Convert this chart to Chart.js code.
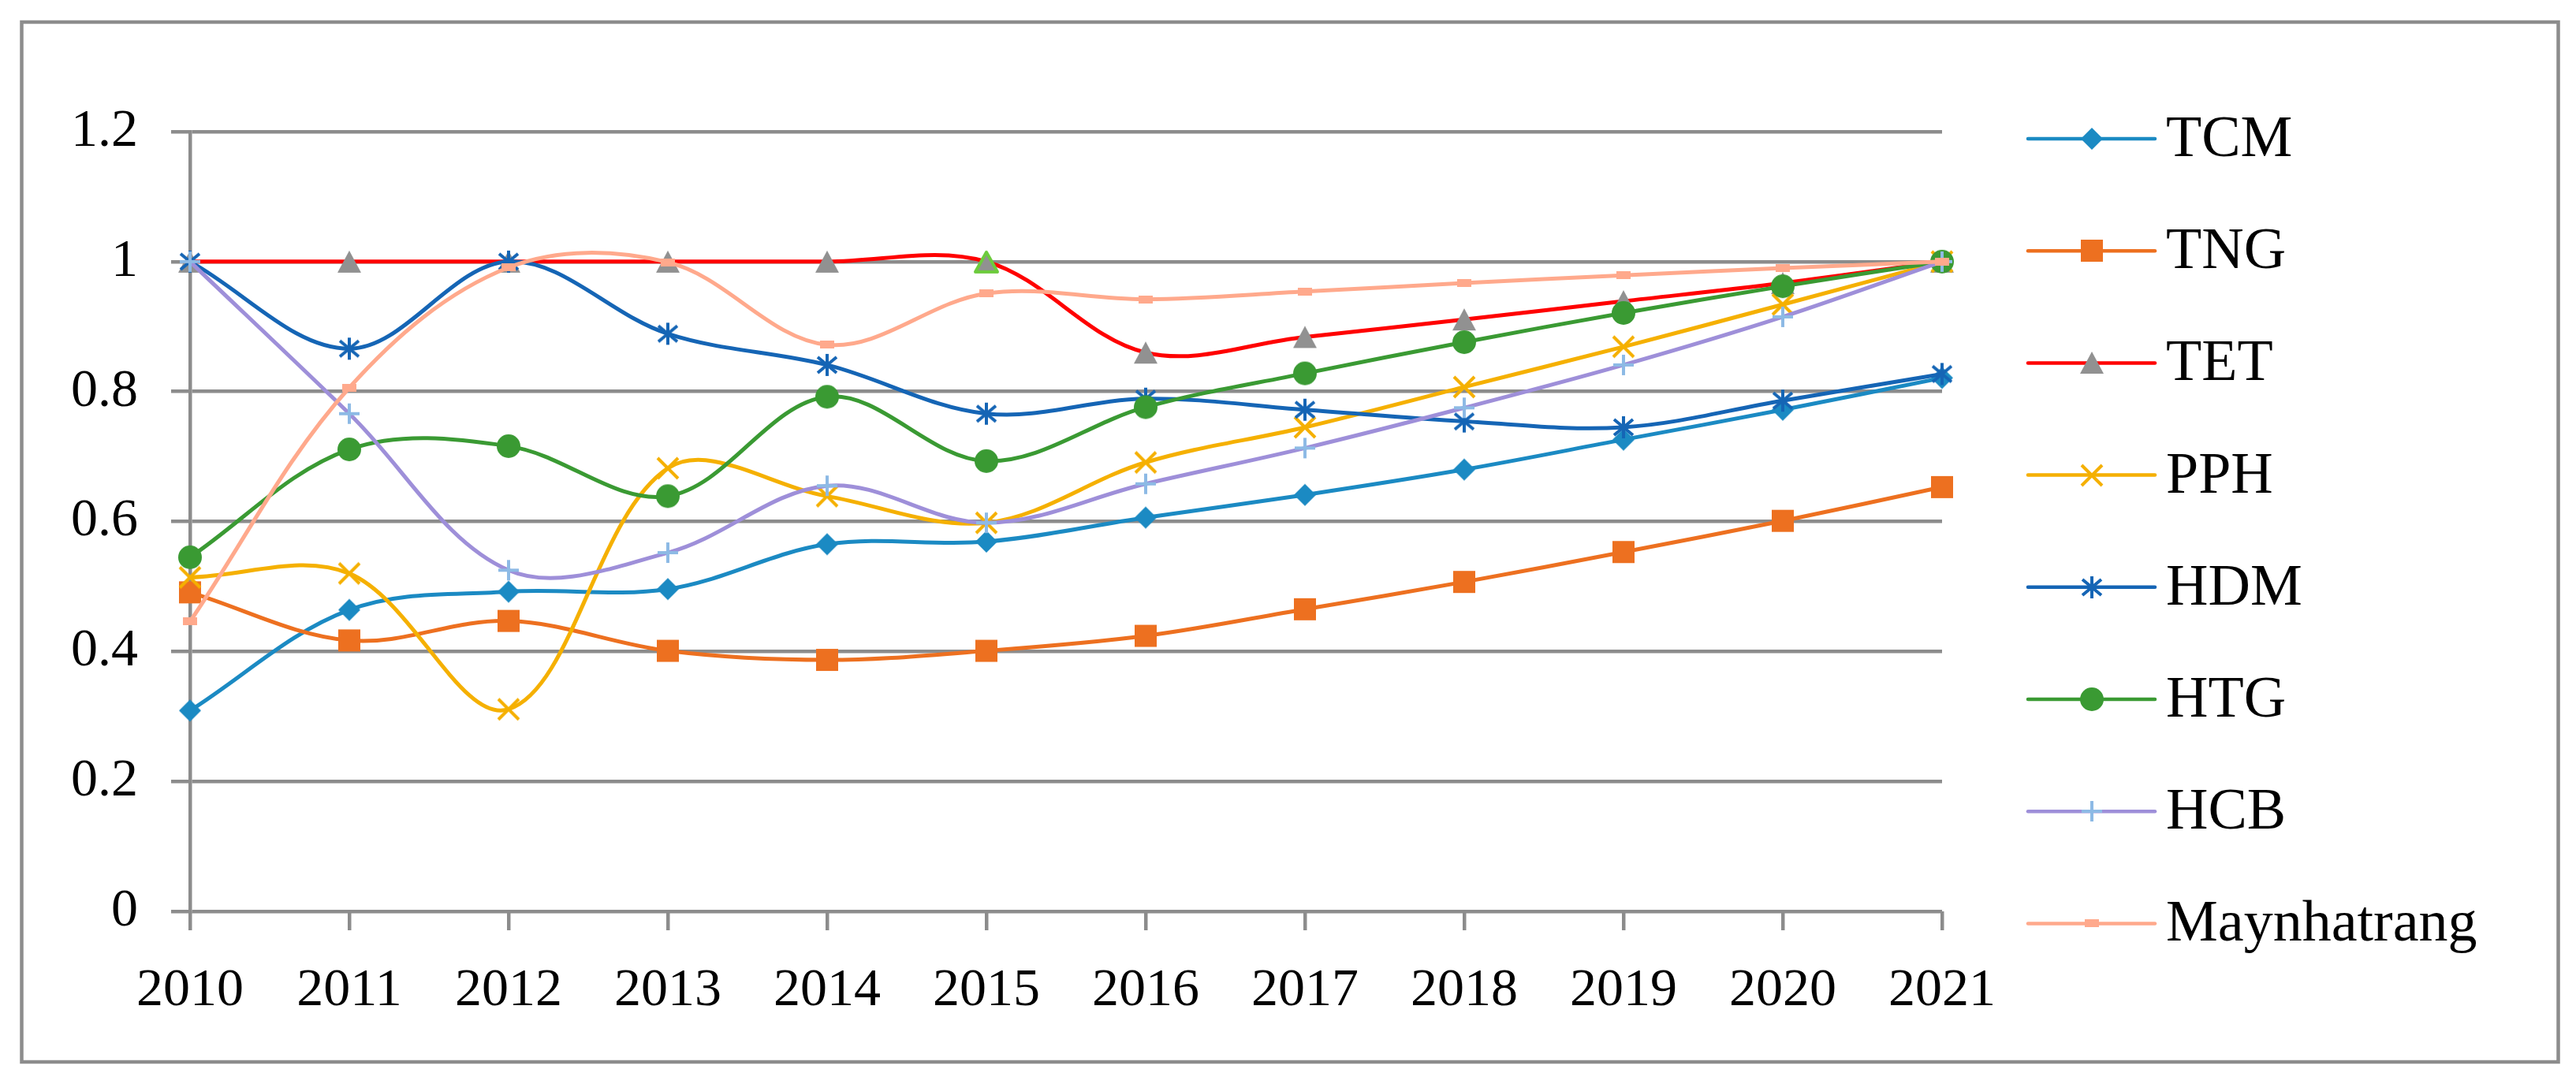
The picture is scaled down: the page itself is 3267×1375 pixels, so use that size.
<!DOCTYPE html>
<html>
<head>
<meta charset="utf-8">
<script src="https://cdn.jsdelivr.net/npm/chart.js@4.4.1/dist/chart.umd.min.js"></script>
<style>
  html, body { margin: 0; padding: 0; background: #ffffff; }
  canvas { display: block; }
</style>
</head>
<body>
<canvas id="c" width="3267" height="1375"></canvas>
<script>
// ---- data ----
const years = ['2010','2011','2012','2013','2014','2015','2016','2017','2018','2019','2020','2021'];
const yTickLabels = ['0','0.2','0.4','0.6','0.8','1','1.2'];
const seriesNames = ['TCM','TNG','TET','PPH','HDM','HTG','HCB','Maynhatrang'];
const TCM = [0.309,0.464,0.492,0.496,0.565,0.569,0.606,0.641,0.680,0.726,0.772,0.821];
const TNG = [0.491,0.417,0.447,0.401,0.387,0.401,0.424,0.465,0.507,0.553,0.601,0.653];
const TET = [1,1,1,1,1,1,0.860,0.884,0.911,0.939,0.967,1];
const PPH = [0.514,0.520,0.311,0.682,0.639,0.598,0.691,0.745,0.807,0.869,0.934,1];
const HDM = [1,0.866,1,0.889,0.841,0.766,0.789,0.772,0.754,0.745,0.786,0.827];
const HTG = [0.545,0.711,0.716,0.639,0.792,0.693,0.776,0.828,0.876,0.921,0.962,1];
const HCB = [1,0.766,0.525,0.552,0.655,0.598,0.658,0.713,0.775,0.841,0.915,1];
const MAY = [0.446,0.806,0.991,0.999,0.872,0.951,0.942,0.954,0.967,0.979,0.990,1];

// ---- marker images (styles) ----
function mk(w, h, draw) {
  const c = document.createElement('canvas');
  c.width = w; c.height = h;
  const g = c.getContext('2d');
  draw(g, w, h);
  return c;
}
const mDiamond = mk(30, 30, (g) => { g.fillStyle = '#1B8AC3'; g.beginPath(); g.moveTo(15,1); g.lineTo(29,15); g.lineTo(15,29); g.lineTo(1,15); g.closePath(); g.fill(); });
const mSquare = mk(30, 30, (g) => { g.fillStyle = '#ED7020'; g.fillRect(1,1,28,28); });
const mTri = mk(32, 30, (g) => { g.fillStyle = '#919191'; g.beginPath(); g.moveTo(16,1); g.lineTo(31,29); g.lineTo(1,29); g.closePath(); g.fill(); });
const mTriGreen = mk(34, 32, (g) => { g.fillStyle = '#919191'; g.strokeStyle = '#6CCB3C'; g.lineWidth = 4; g.lineJoin = 'round'; g.beginPath(); g.moveTo(17,4); g.lineTo(31,29); g.lineTo(3,29); g.closePath(); g.fill(); g.stroke(); });
const mX = mk(32, 32, (g) => { g.strokeStyle = '#F5B000'; g.lineWidth = 4; g.beginPath(); g.moveTo(3,3); g.lineTo(29,29); g.moveTo(29,3); g.lineTo(3,29); g.stroke(); });
const mStar = mk(30, 30, (g) => { g.strokeStyle = '#1565B5'; g.lineWidth = 4; g.beginPath(); g.moveTo(15,1); g.lineTo(15,29); g.moveTo(3,5); g.lineTo(27,25); g.moveTo(27,5); g.lineTo(3,25); g.stroke(); });
const mCircle = mk(32, 32, (g) => { g.fillStyle = '#3A9A33'; g.beginPath(); g.arc(16,16,15,0,Math.PI*2); g.fill(); });
const mPlus = mk(28, 28, (g) => { g.strokeStyle = '#8DBAE5'; g.lineWidth = 4; g.beginPath(); g.moveTo(14,1); g.lineTo(14,27); g.moveTo(1,14); g.lineTo(27,14); g.stroke(); });
const mRect = mk(18, 10, (g) => { g.fillStyle = '#FFA98C'; g.fillRect(0,0,18,10); });

const seriesValues = [TCM, TNG, TET, PPH, HDM, HTG, HCB, MAY];
const lineColors = ['#1B8AC3','#ED7020','#FF0000','#F5B000','#1565B5','#3A9A33','#9E8FD9','#FFA98C'];
const markers = [mDiamond, mSquare, mTri, mX, mStar, mCircle, mPlus, mRect];

const datasets = seriesNames.map((name, i) => ({
  label: name,
  data: seriesValues[i],
  borderColor: lineColors[i],
  backgroundColor: lineColors[i],
  borderWidth: 5,
  borderJoinStyle: 'round',
  borderCapStyle: 'round',
  tension: 0.35,
  fill: false,
  clip: false,
  order: -i,
  pointRadius: 15,
  pointHoverRadius: 15,
  pointStyle: (i === 2) ? ((ctx) => ctx.dataIndex === 5 ? mTriGreen : mTri) : markers[i],
  legendMarker: markers[i]
}));

const FONT = '"Liberation Serif", "Times New Roman", serif';

const frame = {
  id: 'frame',
  beforeDraw(chart) {
    const g = chart.ctx;
    g.save();
    g.fillStyle = '#ffffff';
    g.fillRect(0, 0, chart.width, chart.height);
    g.strokeStyle = '#8C8C8C';
    g.lineWidth = 4.5;
    g.strokeRect(27.5, 28, 3217, 1319);
    g.restore();
  }
};

const sideLegend = {
  id: 'sideLegend',
  afterDraw(chart) {
    const g = chart.ctx;
    chart.data.datasets.forEach((ds, i) => {
      const y = 176 + i * 142.2;
      g.save();
      g.strokeStyle = ds.borderColor;
      g.lineWidth = 4.5;
      g.lineCap = 'round';
      g.beginPath();
      g.moveTo(2572, y);
      g.lineTo(2733, y);
      g.stroke();
      const img = ds.legendMarker;
      g.drawImage(img, Math.round(2653 - img.width / 2), Math.round(y - img.height / 2));
      g.fillStyle = '#000000';
      g.font = '74px ' + FONT;
      g.textBaseline = 'alphabetic';
      g.textAlign = 'left';
      g.fillText(ds.label, 2747, y + 22);
      g.restore();
    });
  }
};

new Chart(document.getElementById('c'), {
  type: 'line',
  data: { labels: years, datasets },
  plugins: [frame, sideLegend],
  options: {
    responsive: false,
    devicePixelRatio: 1,
    animation: false,
    layout: { padding: { left: 0, top: 167, right: 804, bottom: 0 } },
    plugins: { legend: { display: false }, tooltip: { enabled: false } },
    scales: {
      x: {
        type: 'category',
        offset: false,
        afterFit(scale) { scale.height = 219; },
        grid: { display: true, drawOnChartArea: false, drawTicks: true, tickLength: 24, color: '#8C8C8C', lineWidth: 4.5 },
        border: { display: false },
        ticks: { color: '#000000', font: { family: FONT, size: 68 }, padding: 36, maxRotation: 0, autoSkip: false }
      },
      y: {
        min: 0,
        max: 1.2,
        afterFit(scale) { scale.width = 241; },
        grid: { color: '#8C8C8C', lineWidth: 4.5, tickLength: 24, drawTicks: true },
        border: { display: true, color: '#8C8C8C', width: 4.5 },
        ticks: {
          stepSize: 0.2,
          color: '#000000',
          font: { family: FONT, size: 68 },
          padding: 42,
          callback: (v, idx) => yTickLabels[idx]
        }
      }
    }
  }
});
</script>
</body>
</html>
